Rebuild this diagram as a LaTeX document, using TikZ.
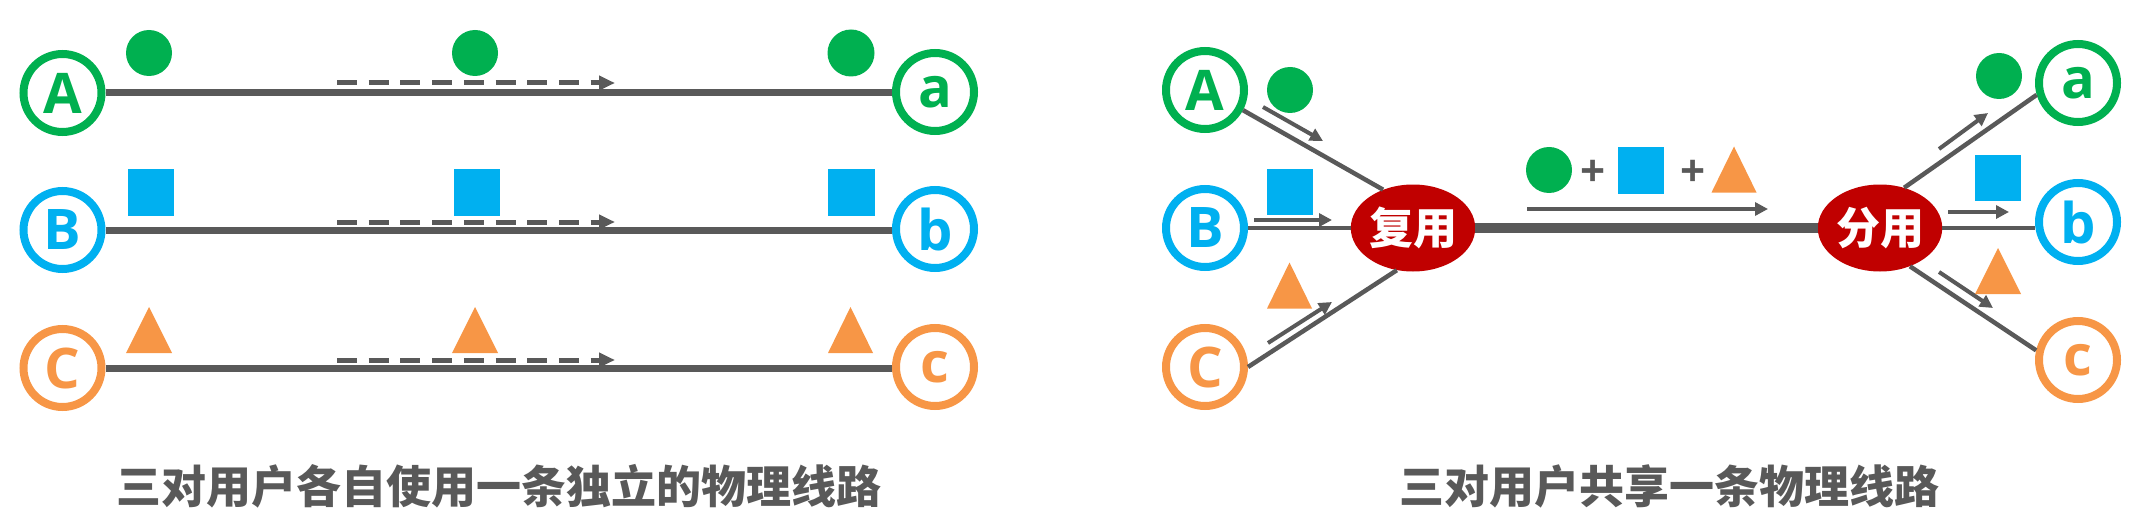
\documentclass[tikz,border=0pt]{standalone}
\usepackage{fontspec}
\setmainfont{Open Sans}
\newfontfamily\cjk{Noto Sans CJK SC}
\usetikzlibrary{arrows.meta,shapes.geometric}
\definecolor{gA}{HTML}{00B050}
\definecolor{bB}{HTML}{00B0F0}
\definecolor{oC}{HTML}{F79646}
\definecolor{ln}{HTML}{595959}
\definecolor{mux}{HTML}{C00000}
\begin{document}
\begin{tikzpicture}[x=1pt,y=-1pt,
  ring/.style={circle,draw=#1,line width=8pt,text=#1,minimum size=78pt,inner sep=0pt,font=\fontsize{56}{60}\selectfont\bfseries},
  wire/.style={ln,line width=7pt},
  dasharrow/.style={ln,line width=5pt,dash pattern=on 20pt off 11.7pt,-{Triangle[length=16pt,width=14pt]}},
  thinwire/.style={ln,line width=4.5pt},
  flow/.style={ln,line width=4pt,-{Triangle[length=13pt,width=13pt]}},
  mx/.style={ellipse,fill=mux,text=white,minimum width=122pt,minimum height=87pt,inner sep=0pt,font=\cjk\bfseries\fontsize{44}{46}\selectfont},
  caption/.style={text=ln,font=\cjk\bfseries\fontsize{45}{50}\selectfont},
  plus/.style={text=ln,inner sep=0pt,font=\bfseries\fontsize{44}{46}\selectfont},
  gdot/.style={circle,fill=gA,inner sep=0pt,minimum size=#1},
  bsq/.style={rectangle,fill=bB,inner sep=0pt,minimum width=#1,minimum height=#1},
  pics/otri/.style={code={\fill[oC] (-#1/2,23) -- (#1/2,23) -- (0,-23) -- cycle;}}
]
\useasboundingbox (0,0) rectangle (2145,532);

% ---------- left panel ----------
\node[ring=gA] (A) at (62.5,93) {A};
\node[ring=bB] (B) at (62.5,230) {B};
\node[ring=oC] (C) at (62.5,368) {C};
\node[ring=gA] (a) at (935,92) {a};
\node[ring=bB] (b) at (935,229) {b};
\node[ring=oC] (c) at (935,367) {c};

\draw[wire] (A.east) -- (A.east -| a.west);
\draw[wire] (B.east) -- (B.east -| b.west);
\draw[wire] (C.east) -- (C.east -| c.west);

\draw[dasharrow] (337,83) -- (615,83);
\draw[dasharrow] (337,222) -- (615,222);
\draw[dasharrow] (337,360) -- (615,360);

\node[gdot=46pt] (d1) at (149,53) {};
\node[gdot=46pt] (d2) at (475,53) {};
\node[gdot=47pt] (d3) at (851,53) {};
\node[bsq=46pt] (s1) at (151,192.5) {};
\node[bsq=46pt] (s2) at (477,192.5) {};
\node[bsq=47pt] (s3) at (851.5,192.5) {};
\pic (t1) at (149,330) {otri=46};
\pic (t2) at (475,330) {otri=46};
\pic (t3) at (850.5,330) {otri=45};

\node[caption] (cap1) at (499,486) {三对用户各自使用一条独立的物理线路};

% ---------- right panel ----------
\node[ring=gA] (RA) at (1205,90) {A};
\node[ring=bB] (RB) at (1205,228) {B};
\node[ring=oC] (RC) at (1205,367) {C};
\node[mx] (fy) at (1413,228) {复用};
\node[mx,minimum width=123pt] (fu) at (1880,228) {分用};
\node[ring=gA] (Ra) at (2078,83) {a};
\node[ring=bB] (Rb) at (2078,222) {b};
\node[ring=oC] (Rc) at (2078,360) {c};

\draw[thinwire] (RA.-28) -- (fy.128);
\draw[thinwire] (RB.east) -- (fy.west);
\draw[thinwire] (RC.east) -- (fy.249);
\draw[ln,line width=10pt] (fy.east) -- (fu.west);
\draw[thinwire] (fu.59) -- (Ra.196);
\draw[thinwire] (fu.east) -- (fu.east -| Rb.west);
\draw[thinwire] (fu.-52) -- (Rc.167);

\draw[flow] (1263,107) -- (1323,141);
\draw[flow] (1254,220) -- (1332,220);
\draw[flow] (1268,343) -- (1332,302);
\draw[flow] (1527,209) -- (1768,209);
\draw[flow] (1939,149) -- (1988,113);
\draw[flow] (1948,212) -- (2009,212);
\draw[flow] (1939,272) -- (1993,308);

\node[gdot=46pt] (rd1) at (1290,90) {};
\node[bsq=46pt] (rs1) at (1290,192) {};
\pic (rt1) at (1289.5,285.5) {otri=45};

\node[gdot=46pt] (md) at (1549,170) {};
\node[plus] (p1) at (1593,173) {+};
\node[bsq=46pt] (ms) at (1641,170.5) {};
\node[plus] (p2) at (1693,173) {+};
\pic (mt) at (1734,169.5) {otri=45};

\node[gdot=46pt] (rd2) at (1999,76) {};
\node[bsq=46pt] (rs2) at (1998,178) {};
\pic (rt2) at (1998,271) {otri=46};

\node[caption] (cap2) at (1669,486) {三对用户共享一条物理线路};
\end{tikzpicture}
\end{document}
